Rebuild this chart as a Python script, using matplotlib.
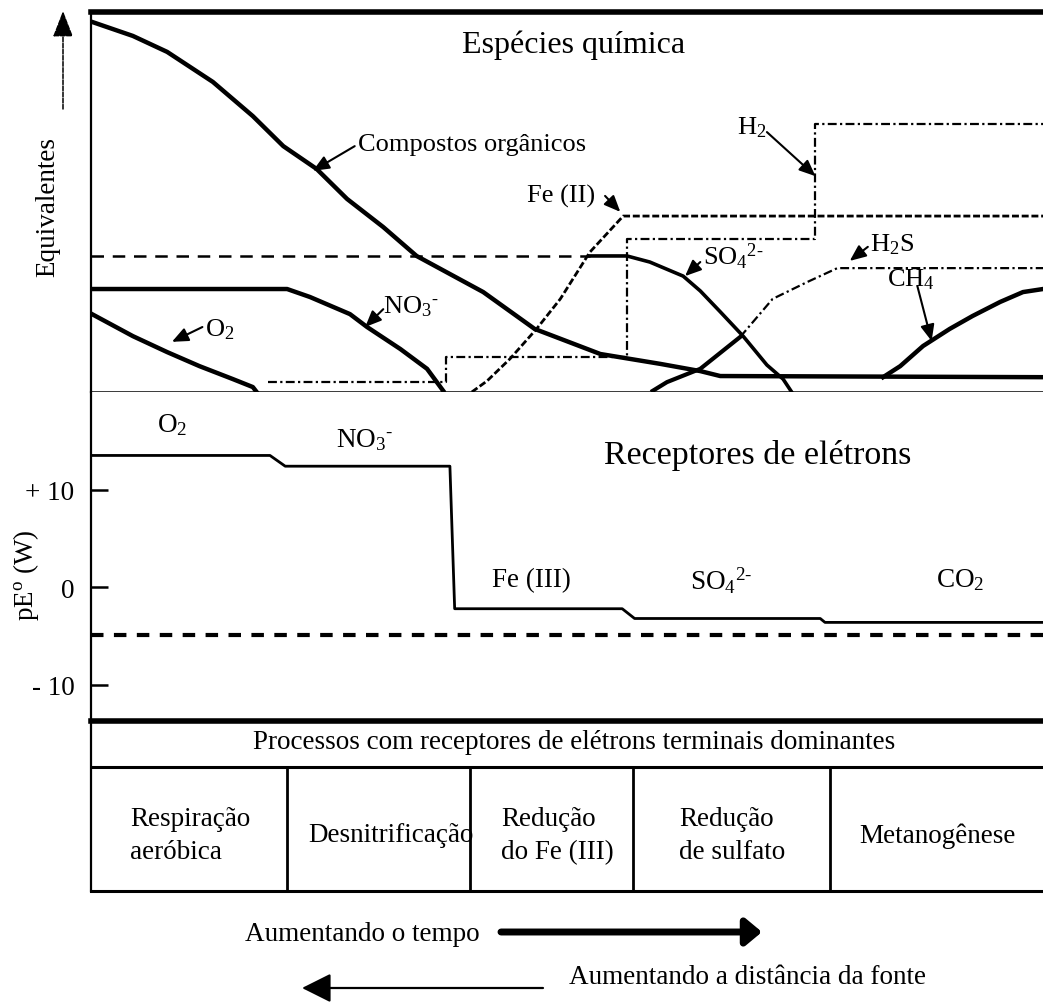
import matplotlib
matplotlib.use("Agg")
from matplotlib import pyplot as plt

plt.rcParams['font.family'] = ['Liberation Serif', 'DejaVu Serif']
plt.rcParams['mathtext.fontset'] = 'custom'
plt.rcParams['mathtext.rm'] = 'Liberation Serif'
plt.rcParams['mathtext.it'] = 'Liberation Serif:italic'
plt.rcParams['mathtext.bf'] = 'Liberation Serif:bold'

# ---- top panel: chemical species (equivalents, 0-100) vs distance (0-100)
org_x = [0.1, 4.4, 8.0, 12.8, 17.0, 20.2, 23.7, 26.9, 30.7, 34.2, 41.2, 46.6, 53.5, 59.8, 64.0, 66.1, 100]
org_y = [97.4, 93.7, 89.5, 81.6, 72.6, 64.7, 58.7, 50.8, 43.4, 35.8, 26.3, 16.6, 10.0, 7.4, 5.5, 4.2, 3.9]

no3_x = [0, 20.6, 23.0, 27.2, 29.0, 32.5, 35.3, 37.0]
no3_y = [27.1, 27.1, 25.0, 20.5, 17.1, 11.3, 6.1, 0.3]

o2_x = [0.1, 4.4, 8.0, 11.4, 14.9, 17.0, 17.4]
o2_y = [20.5, 14.7, 10.5, 6.8, 3.4, 1.3, 0]

so4_plateau_x = [0, 52.4]
so4_plateau_y = [35.8, 35.8]
so4_x = [52.4, 56.3, 58.7, 62.2, 64.0, 66.1, 68.5, 71.0, 72.7, 73.6]
so4_y = [35.8, 35.8, 34.2, 30.5, 26.6, 21.1, 14.7, 7.1, 3.4, 0]

fe2_x = [40.0, 41.6, 44.0, 46.8, 49.3, 52.4, 55.9, 100]
fe2_y = [0, 2.9, 8.7, 16.6, 24.5, 36.8, 46.3, 46.3]

h2_x = [18.6, 37.3, 56.3, 76.1, 100]
h2_y = [2.6, 9.2, 40.3, 70.5, 70.5]

h2s_x = [59.0, 60.5, 64.0, 68.2, 71.6, 75.2, 78.4, 100]
h2s_y = [0.3, 2.6, 6.1, 14.5, 24.5, 28.9, 32.6, 32.6]
h2s_split = 3  # thick part up to the crossing with SO4

ch4_x = [83.2, 85.0, 87.4, 90.2, 92.6, 95.5, 97.9, 100]
ch4_y = [3.9, 6.8, 12.1, 16.6, 20.0, 23.7, 26.3, 27.1]

# ---- middle panel: electron acceptors, pE (W)
pe_x = [0, 18.8, 20.4, 37.7, 38.2, 55.8, 57.1, 76.6, 77.1, 100]
pe_y = [13.5, 13.5, 12.4, 12.4, -2.2, -2.2, -3.2, -3.2, -3.6, -3.6]
pe_ref = -4.9
pe_ticks = [10, 0, -10]
pe_ticklabels = ['+ 10', '0', '- 10']

# ---- bottom table: dominant processes
proc_edges = [0, 20.6, 39.8, 56.9, 77.6, 100]
proc_names = ['Respiração\naeróbica', 'Desnitrificação', 'Redução\ndo Fe (III)',
              'Redução\nde sulfato', 'Metanogênese']

W, H = 1043, 1004
fig = plt.figure(figsize=(W / 100, H / 100), dpi=100)

def box(top, bottom):
    return [91 / W, 1 - bottom / H, (W - 91) / W, (bottom - top) / H]

FS = 19.5
SO4 = 'SO$_4$$^{2\u2010}$'

# top panel
ax1 = fig.add_axes(box(13, 393))
ax1.set_xlim(0, 100)
ax1.set_ylim(0, 100)
ax1.set_xticks([])
ax1.set_yticks([])
ax1.spines['right'].set_visible(False)
ax1.spines['top'].set_linewidth(4)
ax1.spines['left'].set_linewidth(1.6)
ax1.spines['bottom'].set_linewidth(1.8)

ax1.plot(org_x, org_y, color='k', lw=3.2)
ax1.plot(no3_x, no3_y, color='k', lw=3.2)
ax1.plot(o2_x, o2_y, color='k', lw=3.2)
ax1.plot(so4_plateau_x, so4_plateau_y, color='k', lw=1.8, dashes=(5, 3.5))
ax1.plot(so4_x, so4_y, color='k', lw=2.6)
ax1.plot(fe2_x, fe2_y, color='k', lw=2, dashes=(2.5, 1))
ax1.step(h2_x, h2_y, where='post', color='k', lw=1.6, dashes=(4, 1.5, 1, 1.5))
ax1.plot(h2s_x[:h2s_split + 1], h2s_y[:h2s_split + 1], color='k', lw=3)
ax1.plot(h2s_x[h2s_split:], h2s_y[h2s_split:], color='k', lw=1.6, dashes=(4, 1.5, 1, 1.5))
ax1.plot(ch4_x, ch4_y, color='k', lw=3.2)

ax1.text(50.7, 91.6, 'Espécies química', fontsize=23, ha='center', va='center')

arr = dict(arrowstyle='-|>,head_length=0.7,head_width=0.3', color='k', lw=1.5,
           mutation_scale=14, shrinkA=0, shrinkB=0)
labels = [
    ('Compostos orgânicos', (28.0, 65.3), (27.7, 64.7), (23.3, 58.2)),
    ('Fe (II)', (45.8, 51.6), (54.0, 51.6), (55.6, 47.4)),
    ('H$_2$', (67.9, 69.7), (71.0, 68.4), (76.1, 56.8)),
    (SO4, (64.3, 35.8), (64.0, 34.2), (62.4, 30.5)),
    ('H$_2$S', (81.8, 38.9), (81.6, 38.2), (79.7, 34.5)),
    ('CH$_4$', (83.6, 29.7), (86.8, 27.9), (88.3, 13.4)),
    ('NO$_3$$^{\u2010}$', (30.7, 22.6), (30.7, 21.8), (28.8, 17.1)),
    ('O$_2$', (12.0, 16.6), (11.7, 17.1), (8.5, 13.2)),
]
for txt, tpos, tail, tip in labels:
    ax1.text(tpos[0], tpos[1], txt, fontsize=FS - 0.5, ha='left', va='center')
    ax1.annotate('', xy=tip, xytext=tail, arrowprops=arr)

# middle panel
ax2 = fig.add_axes(box(393, 722))
ax2.set_xlim(0, 100)
ax2.set_ylim(-13.7, 20.0)
ax2.set_xticks([])
ax2.set_yticks(pe_ticks)
ax2.set_yticklabels(pe_ticklabels, fontsize=FS)
ax2.tick_params(axis='y', direction='in', length=12, width=1.8, pad=12)
for s in ['top', 'right', 'bottom']:
    ax2.spines[s].set_visible(False)
ax2.spines['left'].set_linewidth(1.6)

ax2.plot(pe_x, pe_y, color='k', lw=2)
ax2.axhline(pe_ref, color='k', lw=3, dashes=(3, 2.5))

ax2.text(8.5, 16.7, 'O$_2$', fontsize=FS, ha='center', va='center')
ax2.text(28.8, 15.2, 'NO$_3$$^{\u2010}$', fontsize=FS, ha='center', va='center')
ax2.text(70.0, 13.6, 'Receptores de elétrons', fontsize=24.5, ha='center', va='center')
ax2.text(46.3, 0.8, 'Fe (III)', fontsize=FS, ha='center', va='center')
ax2.text(66.2, 0.8, SO4, fontsize=FS, ha='center', va='center')
ax2.text(91.3, 0.8, 'CO$_2$', fontsize=FS, ha='center', va='center')

# bottom table
ax3 = fig.add_axes(box(722, 892))
ax3.set_xlim(0, 100)
ax3.set_ylim(0, 1)
ax3.set_xticks([])
ax3.set_yticks([])
ax3.spines['right'].set_visible(False)
ax3.spines['top'].set_linewidth(4)
ax3.spines['bottom'].set_linewidth(2.2)
ax3.spines['left'].set_linewidth(1.6)
head_y = 0.729
ax3.axhline(head_y, color='k', lw=2.2)
ax3.text(50.7, 0.882, 'Processos com receptores de elétrons terminais dominantes',
         fontsize=FS, ha='center', va='center')
for xe in proc_edges[1:-1]:
    ax3.plot([xe, xe], [0, head_y], color='k', lw=2, zorder=3)
cell_pos = [(4.1, 'left'), (22.8, 'left'), (43.1, 'left'), (61.8, 'left'), (88.9, 'center')]
for name, (xp, ha) in zip(proc_names, cell_pos):
    ax3.text(xp, 0.33, name, fontsize=FS, ha=ha, va='center', linespacing=1.45, zorder=2)

# overlay in pixel units for outside labels and arrows
ov = fig.add_axes([0, 0, 1, 1], zorder=5)
ov.set_xlim(0, W)
ov.set_ylim(H, 0)
ov.axis('off')
ov.patch.set_alpha(0)

ov.text(48, 207, 'Equivalentes', fontsize=FS, rotation=90, ha='center', va='center')
ov.annotate('', xy=(63, 12), xytext=(63, 110),
            arrowprops=dict(arrowstyle='-|>,head_length=0.9,head_width=0.35', color='k',
                            lw=1.1, ls=(0, (3, 1)), mutation_scale=18, shrinkA=0, shrinkB=0))
ov.text(26, 575, 'pE$^{\\mathrm{o}}$ (W)', fontsize=FS, rotation=90, ha='center', va='center')

ov.text(245, 935, 'Aumentando o tempo', fontsize=FS, ha='left', va='center')
ov.annotate('', xy=(762, 933), xytext=(501, 933),
            arrowprops=dict(arrowstyle='-|>,head_length=0.6,head_width=0.5', color='k',
                            lw=5, mutation_scale=16, shrinkA=0, shrinkB=0))
ov.text(569, 978, 'Aumentando a distância da fonte', fontsize=FS, ha='left', va='center')
ov.annotate('', xy=(302, 989), xytext=(543, 989),
            arrowprops=dict(arrowstyle='-|>,head_length=0.9,head_width=0.45', color='k',
                            lw=1.6, mutation_scale=20, shrinkA=0, shrinkB=0))

fig.savefig('out.png', dpi=100)
